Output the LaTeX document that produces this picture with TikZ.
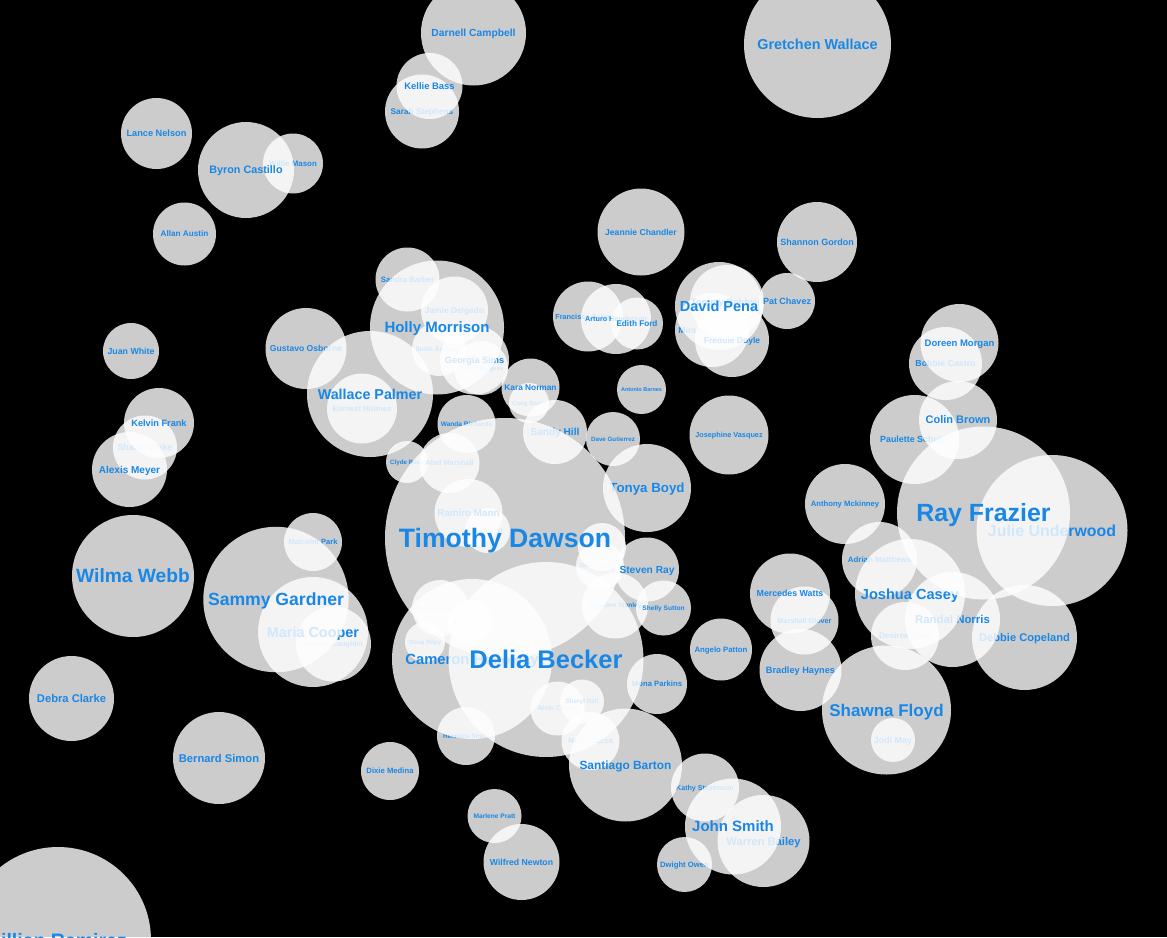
\documentclass[tikz,border=0pt]{standalone}
\usepackage{fontspec}
\setmainfont{Liberation Sans}
\definecolor{nameblue}{RGB}{25,135,230}

% one bubble: id, x, y, radius, font size, name
\newcommand{\person}[6]{%
  \fill[bubble] (#2,#3) circle[radius=#4pt];
  \node[who, font=\fontsize{#5}{#5}\selectfont\bfseries, text height=0.72*#5pt] (#1) at (#2,#3) {#6};}

\begin{document}
\begin{tikzpicture}[
    x=1pt, y=-1pt,
    bubble/.style={fill=white, fill opacity=0.8},
    who/.style={text=nameblue, text opacity=1, inner sep=0pt, text depth=0pt, anchor=center}
]
\useasboundingbox (0,0) rectangle (1167,937);
\fill[black] (0,0) rectangle (1167,937);
\clip (0,0) rectangle (1167,937);

% Names lying under later bubbles
\person{willie}{293}{163.5}{30}{7.9}{Willie Mason}
\person{sarah}{422}{111.5}{37}{8.3}{Sarah Stephens}
\person{sandra}{407.5}{279.5}{32}{7.7}{Sandra Barber}
\person{jamie}{454.5}{310}{33.5}{8.4}{Jamie Delgado}
\person{susie}{439}{349}{27}{6.6}{Susie Andrews}
\person{margie}{481}{368}{27}{6}{Margie Burgess}
\person{georgia}{474.5}{360}{34.5}{9.2}{Georgia Sims}
\person{gustavo}{306}{348.5}{40.5}{8.6}{Gustavo Osborne}
\person{earnest}{362}{408.5}{35}{7.8}{Earnest Holmes}
\person{craig}{529}{403}{20}{6}{Craig Stone}
\person{wanda}{466.5}{424}{29}{6.6}{Wanda Richards}
\person{sandy}{555}{432}{32}{10.1}{Sandy Hill}
\person{clyde}{407}{462}{21}{6.2}{Clyde Ross}
\person{abel}{449.5}{463}{30}{7.4}{Abel Marshall}
\person{rita}{487.5}{530.5}{22.5}{6}{Rita Weber}
\person{ramiro}{468.5}{513}{34}{9.8}{Ramiro Mann}
\person{sheila}{600}{566}{24}{5.4}{Sheila Swanson}
\person{nobody}{602}{547}{24}{5.4}{}
\person{tonya}{647}{488}{44}{13.3}{Tonya Boyd}
\person{madeline}{615}{605.5}{33}{6.5}{Madeline Stanley}
\person{bethany}{440}{608}{28}{6}{Bethany Brooks}
\person{jamal}{470}{622}{22}{6}{Jamal Reed}
\person{doug}{425}{642}{20}{6.1}{Doug Riley}
\person{henrietta}{466}{736}{29}{6.2}{Henrietta Smith}
\person{alvin}{557.5}{708.5}{27}{6.7}{Alvin Carroll}
\person{sheryl}{582}{701.5}{22}{6.4}{Sheryl Bell}
\person{nellie}{590.5}{741}{29}{7.7}{Nellie Garza}
\person{mona}{657}{684}{30}{7.7}{Mona Parkins}
\person{cameron}{472}{659}{80}{14.8}{Cameron Holloway}
\person{marshall}{804.5}{620.5}{34}{7.2}{Marshall Glover}
\person{jodi}{893}{740}{22}{8.9}{Jodi May}
\person{adrian}{879.5}{559.5}{37.5}{7.9}{Adrian Matthews}
\person{desiree}{905}{636}{34}{8.2}{Desiree Price}
\person{debbie}{1024.5}{637.5}{52.5}{11.1}{Debbie Copeland}
\person{randal}{952.5}{619.5}{47.5}{11.4}{Randal Norris}
\person{julie}{1052}{530.5}{75.5}{15.9}{Julie Underwood}
\person{paulette}{914.5}{439.5}{44.5}{8.9}{Paulette Schultz}
\person{bobbie}{945.5}{363.5}{36.5}{8.8}{Bobbie Castro}
\person{kathy}{705}{787.5}{34}{7.1}{Kathy Stevenson}
\person{warren}{763.5}{841}{46}{11.2}{Warren Bailey}
\person{dwight}{684.5}{864.5}{27.5}{7.7}{Dwight Owen}
\person{malcolm}{313}{542}{29}{7.6}{Malcolm Park}
\person{cecil}{333.5}{644}{37.5}{7.1}{Cecil McLaughlin}
\person{maria}{313}{632}{55}{14.4}{Maria Cooper}
\person{shawn}{145}{447.5}{32}{8.9}{Shawn Blake}
\person{francisco}{588}{316.5}{35}{7.3}{Francisco Schmidt}
\person{arturo}{616}{319}{35}{7.2}{Arturo Henderson}
\person{miranda}{712}{330}{37}{8.7}{Miranda Nichols}
\person{freddie}{732}{340}{37}{8.5}{Freddie Doyle}
\person{tommy}{727}{302}{37}{9.5}{Tommy Baldwin}
\person{pat}{787}{301}{28}{9}{Pat Chavez}

% Names on top
\person{byron}{246}{170}{48}{10.8}{Byron Castillo}
\person{darnell}{473.5}{33}{52.5}{10.3}{Darnell Campbell}
\person{kellie}{429.5}{86}{33}{9.4}{Kellie Bass}
\person{holly}{437}{327.5}{67}{15}{Holly Morrison}
\person{wallace}{370}{394}{63}{14.3}{Wallace Palmer}
\person{kara}{530.5}{387.5}{29}{8.3}{Kara Norman}
\person{timothy}{505}{538}{120}{26.6}{Timothy Dawson}
\person{steven}{647}{569.5}{32}{10.2}{Steven Ray}
\person{shelly}{663.5}{608}{27.5}{6.6}{Shelly Sutton}
\person{delia}{546}{659.5}{97.5}{25.5}{Delia Becker}
\person{santiago}{625.5}{765}{56.5}{11.9}{Santiago Barton}
\person{mercedes}{790}{593.5}{40}{8.8}{Mercedes Watts}
\person{bradley}{800.5}{670}{41}{9.2}{Bradley Haynes}
\person{shawna}{886.5}{710}{64.5}{17}{Shawna Floyd}
\person{joshua}{910}{594}{55}{14.6}{Joshua Casey}
\person{ray}{983.5}{513}{86.5}{24.9}{Ray Frazier}
\person{colin}{958}{420}{39}{11}{Colin Brown}
\person{doreen}{959.5}{343}{39}{9.5}{Doreen Morgan}
\person{john}{733}{826.5}{48}{15}{John Smith}
\person{sammy}{276}{599.5}{72.7}{17.6}{Sammy Gardner}
\person{kelvin}{159}{423}{35}{9.2}{Kelvin Frank}
\person{alexis}{129.5}{469.5}{37.5}{10}{Alexis Meyer}
\person{edith}{637}{323.5}{26}{8.2}{Edith Ford}
\person{david}{719}{306}{44}{14.5}{David Pena}

% Free-standing names
\person{gretchen}{817.5}{44.5}{73.5}{14.4}{Gretchen Wallace}
\person{lance}{156.5}{133.5}{35.5}{9.2}{Lance Nelson}
\person{allan}{184.5}{234}{31.5}{8.2}{Allan Austin}
\person{jeannie}{641}{232}{43.5}{8.6}{Jeannie Chandler}
\person{shannon}{817}{242}{40}{9}{Shannon Gordon}
\person{juan}{131}{351}{28}{8.8}{Juan White}
\person{antonio}{641.5}{389.5}{24.5}{5.5}{Antonio Barnes}
\person{dave}{613}{439}{27}{6.2}{Dave Gutierrez}
\person{josephine}{729}{435}{39.5}{7.3}{Josephine Vasquez}
\person{anthony}{845}{504}{40}{7.7}{Anthony Mckinney}
\person{angelo}{721}{649.5}{31}{7.8}{Angelo Patton}
\person{wilma}{133}{576}{61}{19.2}{Wilma Webb}
\person{debra}{71.5}{698.5}{42.5}{11.2}{Debra Clarke}
\person{bernard}{219}{758}{46}{11.2}{Bernard Simon}
\person{dixie}{390}{771}{29}{7.7}{Dixie Medina}
\person{lillian}{58}{940}{93}{19.5}{Lillian Ramirez}
\person{marlene}{494.5}{816}{27}{6.6}{Marlene Pratt}
\person{wilfred}{521.5}{862}{38}{8.7}{Wilfred Newton}

\end{tikzpicture}
\end{document}
